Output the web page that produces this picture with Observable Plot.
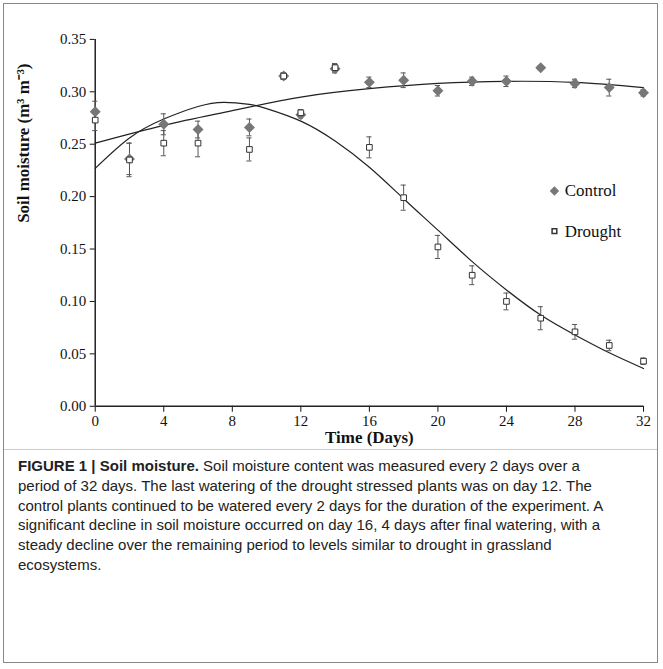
<!DOCTYPE html>
<html><head><meta charset="utf-8">
<script src="https://cdn.jsdelivr.net/npm/d3@7"></script>
<script src="https://cdn.jsdelivr.net/npm/@observablehq/plot@0.6"></script>
<style>
body{margin:0;background:#fff}
#fig{position:absolute;left:3px;top:3px;width:655px;height:660px;border:1px solid #888;box-sizing:border-box;overflow:hidden}
#cap{position:absolute;left:14px;top:452px;width:585px;font-family:Arial,"Liberation Sans",sans-serif;font-size:15px;line-height:19.8px;color:#222}
#rule{position:absolute;left:0;top:445px;width:100%;border-top:1px solid #ccc}
</style></head><body>
<div id="fig"><div id="chart"></div><div id="rule"></div>
<div id="cap"><b>FIGURE 1 | Soil moisture.</b> Soil moisture content was measured every 2 days over a period of 32 days. The last watering of the drought stressed plants was on day 12. The control plants continued to be watered every 2 days for the duration of the experiment. A significant decline in soil moisture occurred on day 16, 4 days after final watering, with a steady decline over the remaining period to levels similar to drought in grassland ecosystems.</div></div>
<script>
const days = [0,2,4,6,9,11,12,14,16,18,20,22,24,26,28,30,32];
const control = [0.281,0.236,0.269,0.264,0.266,0.315,0.278,0.322,0.309,0.311,0.301,0.310,0.310,0.323,0.308,0.304,0.299];
const controlErr = [0.010,0.015,0.010,0.008,0.008,0.003,0.003,0.004,0.005,0.007,0.005,0.004,0.005,0.002,0.004,0.008,0.003];
const drought = [0.273,0.235,0.251,0.251,0.245,0.315,0.280,0.323,0.247,0.199,0.152,0.125,0.100,0.084,0.071,0.058,0.043];
const droughtErr = [0.010,0.016,0.012,0.013,0.011,0.003,0.003,0.004,0.010,0.012,0.011,0.009,0.008,0.011,0.007,0.005,0.003];
const controlFitX = [0,4,8,12,16,20,24,28,32];
const controlFitY = [0.251,0.268,0.282,0.295,0.303,0.308,0.310,0.309,0.304];
const droughtFitX = [0,2,4,6,7.5,9,10,12,14,16,18,20,22,24,26,28,30,32];
const droughtFitY = [0.227,0.256,0.274,0.286,0.290,0.288,0.284,0.272,0.253,0.228,0.198,0.168,0.138,0.111,0.087,0.068,0.051,0.036];
const xTicks = [0,4,8,12,16,20,24,28,32];
const yTicks = [0,0.05,0.10,0.15,0.20,0.25,0.30,0.35];

const C = days.map((d,i)=>({d,v:control[i],e:controlErr[i]}));
const D = days.map((d,i)=>({d,v:drought[i],e:droughtErr[i]}));
const caps = [...C,...D].flatMap(p=>[{d:p.d,y:p.v-p.e},{d:p.d,y:p.v+p.e}]);
const CF = controlFitX.map((x,i)=>({x,y:controlFitY[i]}));
const DF = droughtFitX.map((x,i)=>({x,y:droughtFitY[i]}));
const font = "Liberation Serif, Times New Roman, serif";
const chart = Plot.plot({
  width:655, height:447, marginLeft:91, marginRight:14, marginTop:35, marginBottom:44,
  style:{fontFamily:font,fontSize:"15px",color:"#111"},
  x:{type:"linear",domain:[0,32],label:null},
  y:{type:"linear",domain:[0,0.35],label:null},
  marks:[
    Plot.axisX({ticks:xTicks,tickSize:6,fontSize:15,tickPadding:3,label:null}),
    Plot.axisY({ticks:yTicks,tickFormat:".2f",fontSize:15,tickSize:5,tickPadding:4,label:null}),
    Plot.ruleX([0],{stroke:"#222",strokeWidth:1.5}),
    Plot.ruleY([0],{stroke:"#222",strokeWidth:1.5}),
    Plot.line(CF,{x:"x",y:"y",curve:"natural",stroke:"#222",strokeWidth:1.2}),
    Plot.line(DF,{x:"x",y:"y",curve:"natural",stroke:"#222",strokeWidth:1.2}),
    Plot.ruleX(C,{x:"d",y1:d=>d.v-d.e,y2:d=>d.v+d.e,stroke:"#555"}),
    Plot.ruleX(D,{x:"d",y1:d=>d.v-d.e,y2:d=>d.v+d.e,stroke:"#555"}),
    Plot.ruleY(caps,{y:"y",x1:d=>d.d-0.15,x2:d=>d.d+0.15,stroke:"#555"}),
    Plot.dot(C,{x:"d",y:"v",symbol:"diamond2",fill:"#777",stroke:"#777",r:4}),
    Plot.dot(D,{x:"d",y:"v",symbol:"square2",fill:"white",stroke:"#333",r:3.6,strokeWidth:1}),
    Plot.dot([{x:26.8,y:0.2054}],{x:"x",y:"y",symbol:"diamond2",fill:"#777",stroke:"#777",r:3.3}),
    Plot.dot([{x:26.8,y:0.167}],{x:"x",y:"y",symbol:"square2",fill:"white",stroke:"#333",r:3}),
    Plot.text(["Control"],{x:27.4,y:0.2054,text:d=>d,textAnchor:"start",fontSize:17}),
    Plot.text(["Drought"],{x:27.4,y:0.167,text:d=>d,textAnchor:"start",fontSize:17}),
    Plot.text(["Time (Days)"],{frameAnchor:"bottom",dy:37,text:d=>d,fontWeight:"bold",fontSize:17}),
    Plot.text(["Soil moisture (m³ m⁻³)"],{frameAnchor:"left",dx:-72,rotate:-90,text:d=>d,fontWeight:"bold",fontSize:17})
  ]
});
document.getElementById("chart").append(chart);
</script></body></html>
